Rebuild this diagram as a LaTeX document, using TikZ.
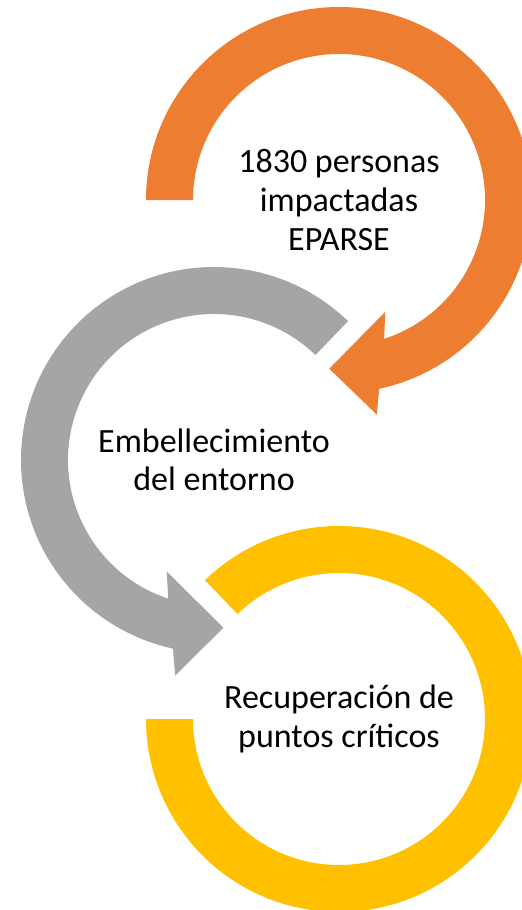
\documentclass[tikz,border=0pt]{standalone}
\usepackage{fontspec}
\setmainfont{Carlito}
\definecolor{arrorange}{HTML}{ED7D31}
\definecolor{arrgray}{HTML}{A5A5A5}
\definecolor{arryellow}{HTML}{FFC000}

\begin{document}
\begin{tikzpicture}[x=0.5pt,y=0.5pt,
  lbl/.style={align=center,font=\fontsize{17}{19.3}\selectfont}]
\useasboundingbox (0,0) rectangle (521,-910);

% orange arrow
\fill[arrorange,shift={(339,-200)}] (180:193)
  arc[start angle=180,end angle=-78,radius=193]
  -- (-80:218) -- (-93.3:169) -- (-67.5:121) -- (-72:146)
  arc[start angle=-72,end angle=180,radius=146] -- cycle;
\node[lbl] (impacto) at (339,-200) {1830 personas\\impactadas\\EPARSE};

% gray arrow
\fill[arrgray,shift={(214,-460)}] (46:193)
  arc[start angle=46,end angle=257.7,radius=193]
  -- (259.8:219) -- (273.2:168) -- (247:121) -- (251.7:146)
  arc[start angle=251.7,end angle=46,radius=146] -- cycle;
\node[lbl] (entorno) at (214,-460) {Embellecimiento\\del entorno};

% yellow ring
\fill[arryellow,shift={(339,-719)}] (134:193)
  arc[start angle=134,end angle=-180,radius=193]
  -- (180:146)
  arc[start angle=-180,end angle=134,radius=146] -- cycle;
\node[lbl] (puntos) at (339,-719) {Recuperación de\\puntos críticos};
\end{tikzpicture}
\end{document}
